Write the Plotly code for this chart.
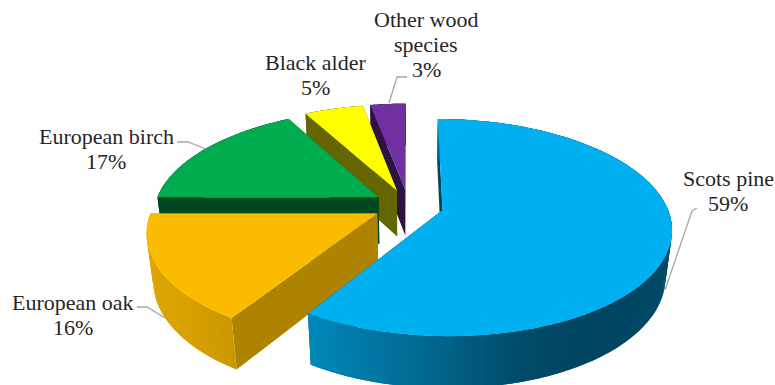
import math
import plotly.graph_objects as go

# ---- data ----
species = ["Scots pine", "European oak", "European birch", "Black alder", "Other wood species"]
shares = [59, 16, 17, 5, 3]
label_lines = [["Scots pine", "59%"], ["European oak", "16%"], ["European birch", "17%"],
               ["Black alder", "5%"], ["Other wood", "species", "3%"]]
top_colors = ["#00B0F0", "#FBBC00", "#00AD4E", "#FFFF00", "#7030A0"]
face_colors = ["#004563", "#AE8300", "#004820", "#666600", "#2D1340"]
label_xy = [(728, 178), (73, 302), (106, 136), (315, 62), (426, 19)]
leaders = [[(665, 290), (692, 211), (697, 208)],
           [(137, 307), (147, 307), (165, 318)],
           [(177, 142), (188, 142), (206, 149)],
           None,
           [(407, 77), (397, 77), (389, 103)]]
wall_stops = {
    0: [(310, (0, 136, 184)), (420, (0, 106, 146)), (520, (0, 76, 106)), (600, (0, 68, 96)), (672, (0, 74, 104))],
    1: [(148, (220, 166, 0)), (190, (214, 160, 0)), (236, (200, 150, 0))],
    2: [(150, (0, 72, 32)), (400, (0, 72, 32))],
    3: [(300, (102, 102, 0)), (400, (102, 102, 0))],
    4: [(360, (45, 19, 64)), (410, (45, 19, 64))],
}

# ---- 3D projection constants ----
OX, OY = 408.5, 205.5
A, B = 224, 104.3
K = 0.16        # depth change across the disc
M = 0.025       # depth change top to bottom
CH = 48         # wall height
EXPLODE = 0.157
DRAW_ORDER = [4, 3, 2, 1, 0]
LINE_STEP = 25


def project(u, v, low=False):
    d = 1 + K * v + (M if low else 0)
    return OX + A * u / d, OY - (B * v - (CH if low else 0)) / d


def lerp_color(stops, x):
    if x <= stops[0][0]:
        c = stops[0][1]
    elif x >= stops[-1][0]:
        c = stops[-1][1]
    else:
        c = stops[-1][1]
        for (x0, c0), (x1, c1) in zip(stops, stops[1:]):
            if x0 <= x <= x1:
                t = (x - x0) / (x1 - x0)
                c = tuple(round(p + (q - p) * t) for p, q in zip(c0, c1))
                break
    return "rgb(%d,%d,%d)" % tuple(c)


fig = go.Figure()


def poly(pts, color):
    xs = [p[0] for p in pts] + [pts[0][0]]
    ys = [p[1] for p in pts] + [pts[0][1]]
    fig.add_trace(go.Scatter(x=xs, y=ys, mode="none", fill="toself", fillcolor=color,
                             hoverinfo="skip", showlegend=False))


total = sum(shares)
starts, acc = [], 0.0
for s in shares:
    starts.append(acc)
    acc += s / total * 2 * math.pi

for i in DRAW_ORDER:
    a0 = starts[i]
    a1 = a0 + shares[i] / total * 2 * math.pi
    mid = (a0 + a1) / 2
    du, dv = EXPLODE * math.sin(mid), EXPLODE * math.cos(mid)
    n = max(6, int(shares[i] * 4))
    rim = [(du + math.sin(a0 + (a1 - a0) * j / n), dv + math.cos(a0 + (a1 - a0) * j / n)) for j in range(n + 1)]
    apex = (du, dv)
    # radial faces
    for end in (rim[0], rim[-1]):
        poly([project(*apex), project(*end), project(*end, low=True), project(*apex, low=True)], face_colors[i])
    # outer wall, shaded along x; each strip overlaps the next to hide seams
    for j in range(n):
        p, q = rim[j], rim[min(j + 2, n)]
        mid_rim = rim[min(j + 1, n)]
        quad = [project(*p), project(*mid_rim), project(*q), project(*q, low=True),
                project(*mid_rim, low=True), project(*p, low=True)]
        xm = (project(*p)[0] + project(*mid_rim)[0]) / 2
        poly(quad, lerp_color(wall_stops[i], xm))
    # top
    poly([project(*apex)] + [project(*p) for p in rim], top_colors[i])

for path in leaders:
    if path:
        fig.add_trace(go.Scatter(x=[p[0] for p in path], y=[p[1] for p in path], mode="lines",
                                 line=dict(color="#A6A6A6", width=1.3), hoverinfo="skip", showlegend=False))

for lines, (x, y) in zip(label_lines, label_xy):
    for k, text in enumerate(lines):
        fig.add_annotation(x=x, y=y + k * LINE_STEP, text=text, showarrow=False, xanchor="center", yanchor="middle",
                           font=dict(family="Liberation Serif", size=22, color="#262626"))

fig.update_layout(width=775, height=385, margin=dict(l=0, r=0, t=0, b=0), paper_bgcolor="white",
                  plot_bgcolor="white", showlegend=False,
                  xaxis=dict(range=[0, 775], visible=False, fixedrange=True),
                  yaxis=dict(range=[385, 0], visible=False, fixedrange=True))
fig.write_html("out.html", config={"displayModeBar": False},
               post_script="document.body.style.margin='0';document.documentElement.style.overflow='hidden';")
